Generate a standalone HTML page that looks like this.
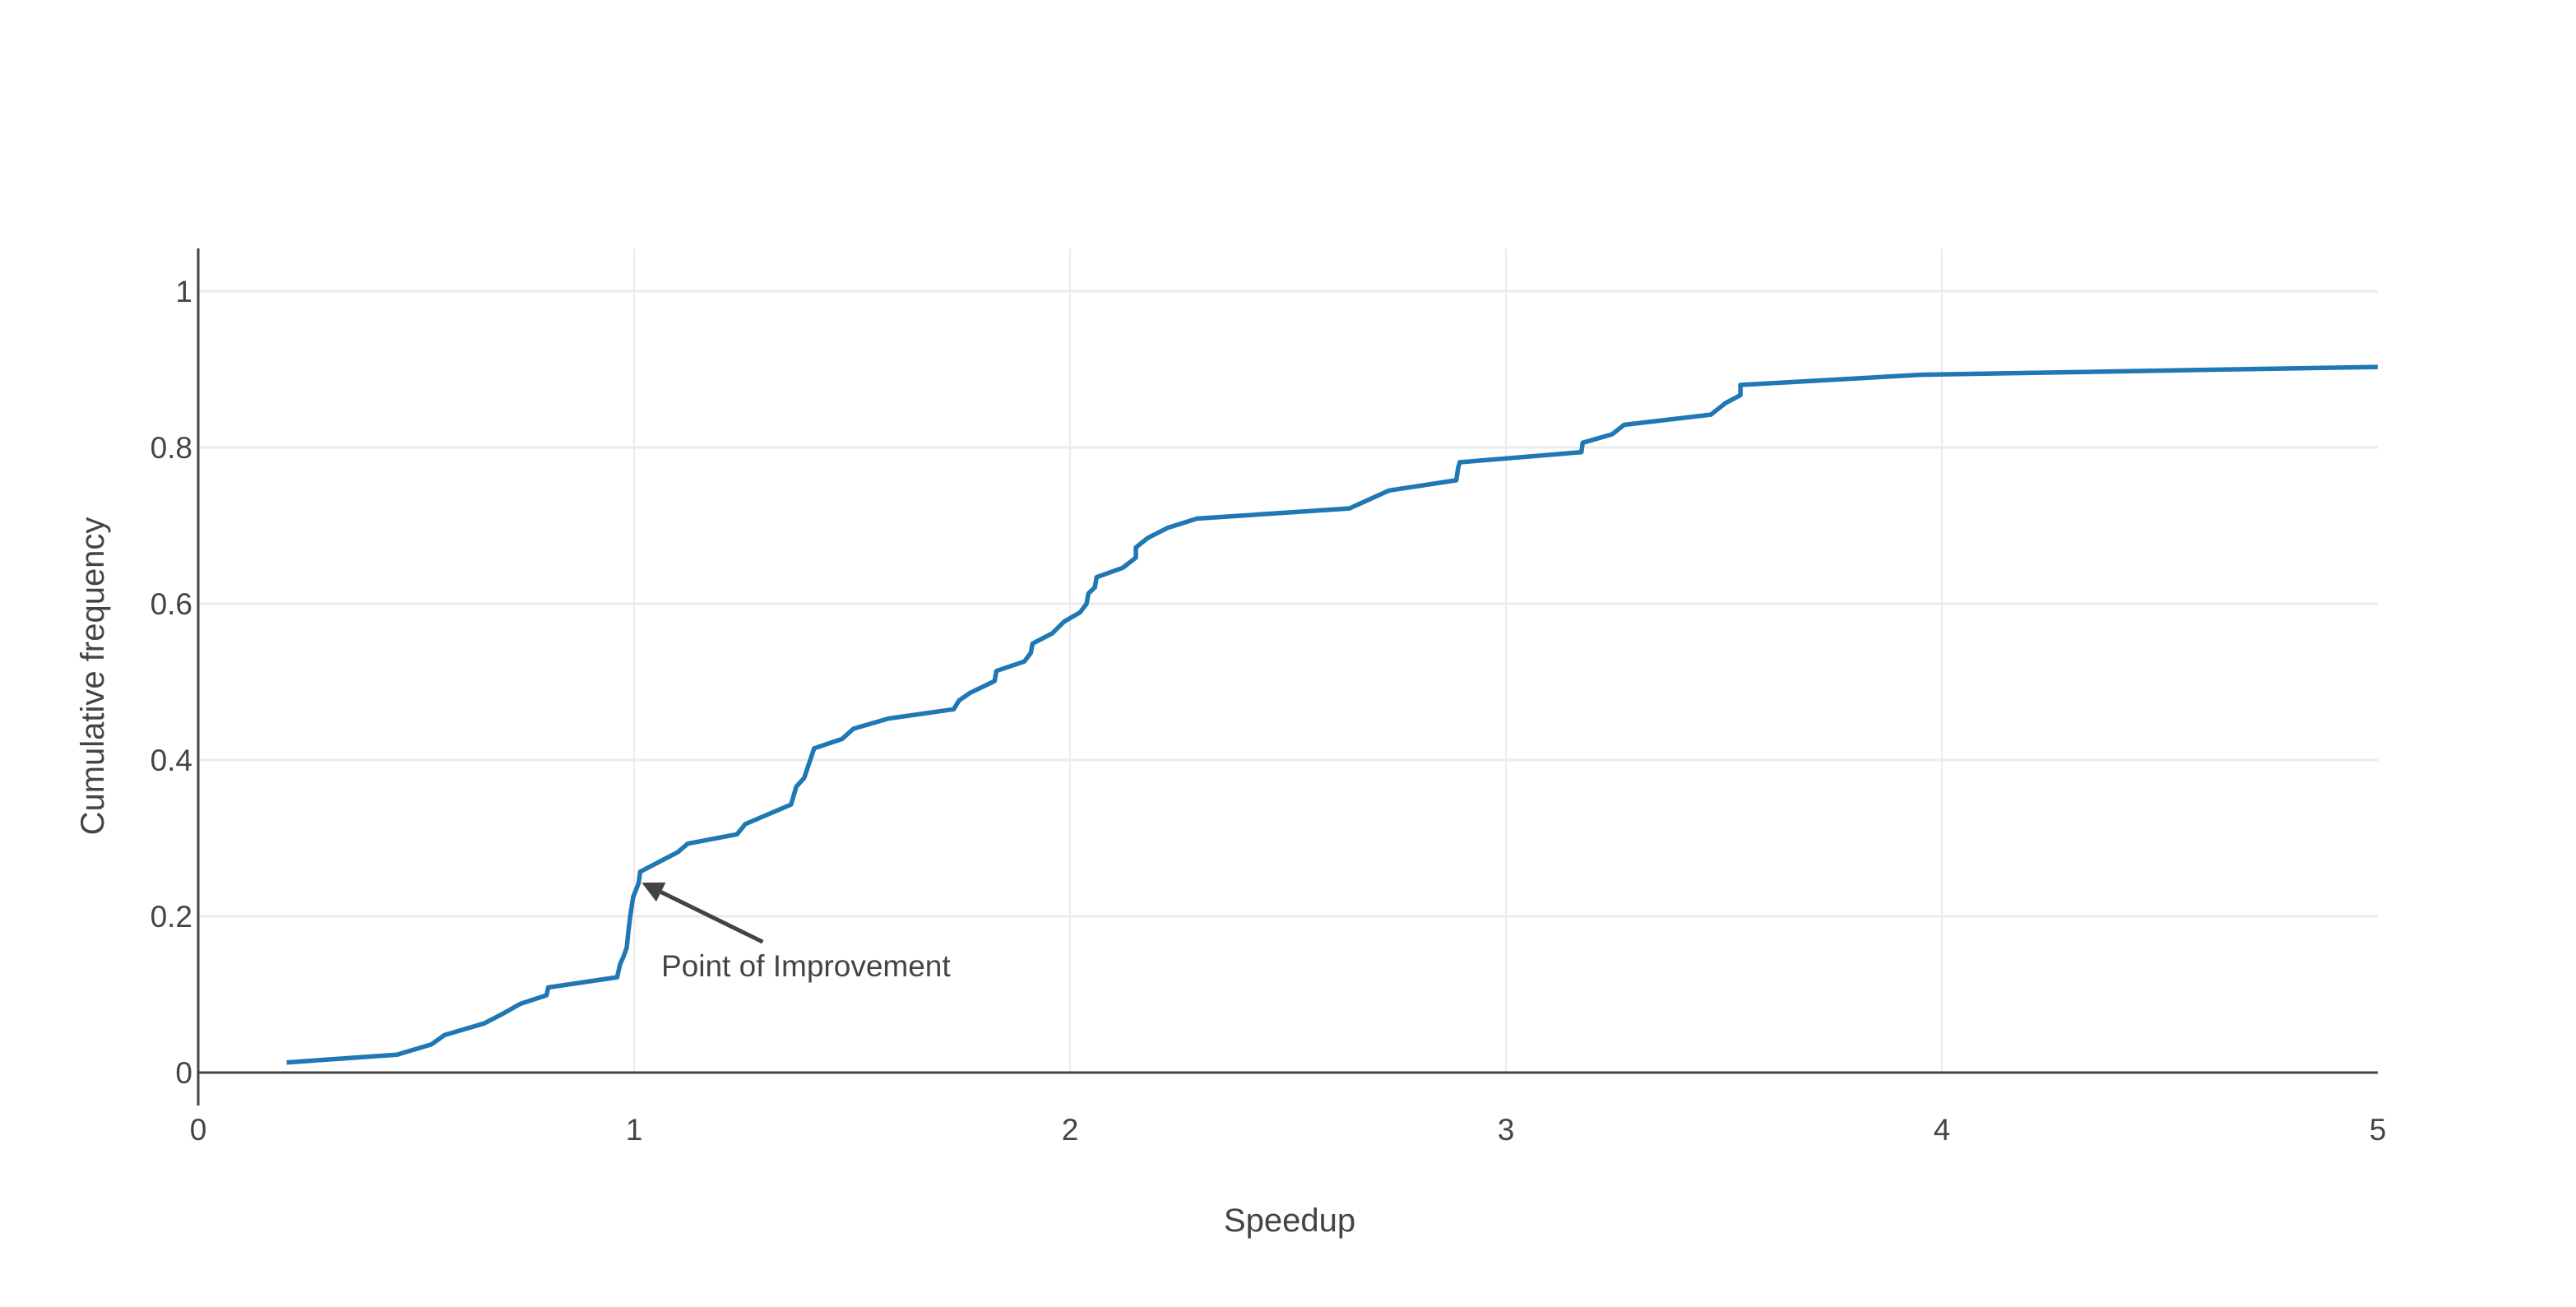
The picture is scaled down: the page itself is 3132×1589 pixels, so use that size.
<!DOCTYPE html>
<html><head><meta charset="utf-8"><style>
html,body{margin:0;padding:0;background:#fff;}
svg text{font-family:"Liberation Sans",sans-serif;fill:#444;}
</style></head><body>
<svg width="3132" height="1584" viewBox="0 0 3132 1584" xmlns="http://www.w3.org/2000/svg">
<g id="grid"></g>
<g id="axes"></g>
<g id="series"></g>
<g id="ann"></g>
</svg>
<script>
const xTicks = [0,1,2,3,4,5];
const yTicks = [0,0.2,0.4,0.6,0.8,1];
const yTickLabels = ["0","0.2","0.4","0.6","0.8","1"];
const speedup = [0.203,0.456,0.535,0.565,0.656,0.701,0.739,0.799,0.803,0.961,0.968,0.976,0.983,0.987,0.991,0.998,1.010,1.014,1.100,1.123,1.236,1.255,1.360,1.372,1.390,1.413,1.477,1.503,1.583,1.733,1.745,1.771,1.827,1.831,1.895,1.910,1.914,1.959,1.986,2.023,2.038,2.042,2.057,2.061,2.121,2.151,2.151,2.178,2.223,2.291,2.641,2.732,2.886,2.890,2.894,3.173,3.176,3.244,3.271,3.470,3.504,3.538,3.538,3.953,5.0];
const freq = [0.013,0.023,0.036,0.048,0.063,0.076,0.088,0.099,0.109,0.122,0.139,0.149,0.160,0.181,0.200,0.225,0.242,0.257,0.282,0.293,0.305,0.318,0.343,0.366,0.377,0.415,0.427,0.440,0.453,0.465,0.476,0.486,0.501,0.514,0.526,0.537,0.549,0.562,0.577,0.589,0.600,0.613,0.621,0.634,0.646,0.659,0.672,0.684,0.697,0.709,0.722,0.745,0.758,0.773,0.781,0.794,0.806,0.817,0.829,0.842,0.857,0.867,0.880,0.893,0.903];
const annX = 1.01, annY = 0.242;

const X0=241, X1=2891, Y0=1304, Y1=354, TOP=302;
const sx = v => X0 + (v-0)/(5-0)*(X1-X0);
const sy = v => Y0 - v*(Y0-Y1);
const NS="http://www.w3.org/2000/svg";
function mk(tag, attrs, parent){const e=document.createElementNS(NS,tag);for(const k in attrs)e.setAttribute(k,attrs[k]);parent.appendChild(e);return e;}
const grid=document.getElementById('grid'), axes=document.getElementById('axes'), series=document.getElementById('series'), ann=document.getElementById('ann');

yTicks.forEach((t,i)=>{
  if(t>0){const l=mk('line',{x1:X0,x2:X1,y1:sy(t),y2:sy(t),stroke:'#ebebeb','stroke-width':3},grid);
  
  }
  const tx=mk('text',{x:X0-7,y:sy(t)+13,'text-anchor':'end','font-size':37},axes);
  tx.textContent=yTickLabels[i];
  
  
});
xTicks.forEach(t=>{
  if(t>0 && t<5){const l=mk('line',{x1:sx(t),x2:sx(t),y1:TOP,y2:Y0,stroke:'#ebebeb','stroke-width':2},grid);
  
  }
  const tx=mk('text',{x:sx(t),y:1386,'text-anchor':'middle','font-size':37},axes);
  tx.textContent=String(t);
  
  
});
let a=mk('line',{x1:X0,x2:X1,y1:Y0,y2:Y0,stroke:'#444','stroke-width':3},axes);


a=mk('line',{x1:X0,x2:X0,y1:TOP,y2:1344,stroke:'#444','stroke-width':3},axes);


let t=mk('text',{x:1568,y:1497,'text-anchor':'middle','font-size':40},axes);
t.textContent='Speedup';


t=mk('text',{x:0,y:0,'text-anchor':'middle','font-size':40,transform:'translate(126,822) rotate(-90)'},axes);
t.textContent='Cumulative frequency';



const pts=speedup.map((v,i)=>sx(v).toFixed(1)+','+sy(freq[i]).toFixed(1)).join(' ');
const pl=mk('polyline',{points:pts,fill:'none',stroke:'#1f77b4','stroke-width':5.5,'stroke-linejoin':'round'},series);



const hx=sx(annX)+4, hy=sy(annY)-1, tx0=hx+147, ty0=hy+72;
const ang=Math.atan2(hy-ty0,hx-tx0);
const L=26, W=13;
const bx=hx-L*Math.cos(ang), by=hy-L*Math.sin(ang);
const al=mk('line',{x1:tx0,y1:ty0,x2:bx,y2:by,stroke:'#444','stroke-width':5},ann);


const px=-Math.sin(ang), py=Math.cos(ang);
const head=mk('polygon',{points:`${hx},${hy} ${bx+px*W},${by+py*W} ${bx-px*W},${by-py*W}`,fill:'#444'},ann);


t=mk('text',{x:804,y:1187,'font-size':37},ann);
t.textContent='Point of Improvement';


</script>
</body></html>
